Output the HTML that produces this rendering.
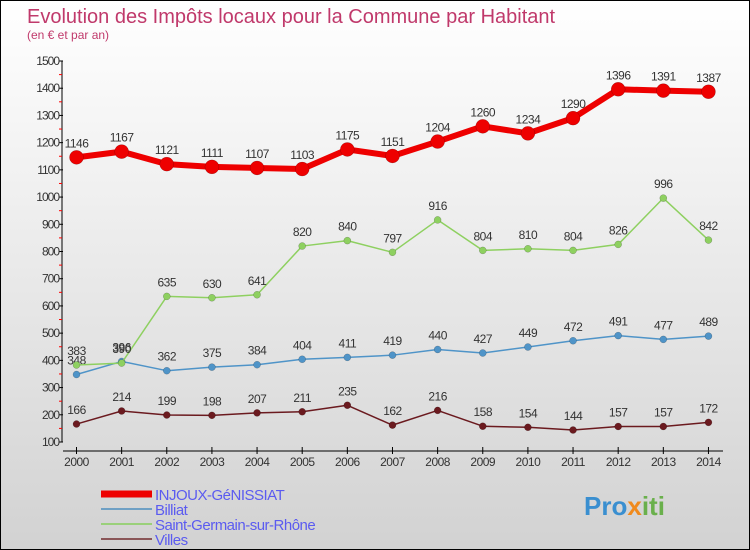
<!DOCTYPE html>
<html><head><meta charset="utf-8"><style>
body{margin:0}
#c{width:748px;height:548px;border:1px solid #000;background:linear-gradient(#fff,#f2f2f2 30%,#d2d2d2);position:relative;font-family:"Liberation Sans",sans-serif;overflow:hidden}
svg{position:absolute;left:0;top:0}
</style></head><body>
<div id="c">
<svg id="s" width="748" height="548">
<text x="26" y="22" font-size="20" fill="#c0396b">Evolution des Impôts locaux pour la Commune par Habitant</text>
<text x="26" y="38" font-size="12" fill="#c0396b">(en € et par an)</text>
<g id="axes"></g><g id="series"></g><g id="legend"></g>
<text x="583" y="514" font-size="26" font-weight="bold" fill="#3a8fd0">Pro<tspan fill="#f08a1c">x</tspan><tspan fill="#6ab04c">iti</tspan></text>
</svg></div>
<script>
const years=[2000,2001,2002,2003,2004,2005,2006,2007,2008,2009,2010,2011,2012,2013,2014];
const yTicks=[100,200,300,400,500,600,700,800,900,1000,1100,1200,1300,1400,1500];
const injoux=[1146,1167,1121,1111,1107,1103,1175,1151,1204,1260,1234,1290,1396,1391,1387];
const billiat=[348,396,362,375,384,404,411,419,440,427,449,472,491,477,489];
const saintGermain=[383,390,635,630,641,820,840,797,916,804,810,804,826,996,842];
const villes=[166,214,199,198,207,211,235,162,216,158,154,144,157,157,172];
const NS="http://www.w3.org/2000/svg";
const X=i=>75.5+i*45.14;
const Y=v=>441-(v-100)*381/1400;
function mk(t,a,p){const e=document.createElementNS(NS,t);for(const k in a)e.setAttribute(k,a[k]);p.appendChild(e);return e;}
const ax=document.getElementById('axes');
const yAxis=mk('line',{x1:61,y1:60,x2:61,y2:441,stroke:'#000'},ax);


yTicks.forEach(v=>{
 mk('line',{x1:58,x2:62,y1:Y(v),y2:Y(v),stroke:'#000'},ax);
 if(v<1500) mk('line',{x1:58,x2:61,y1:Y(v+50),y2:Y(v+50),stroke:'#f00'},ax);
 const t=mk('text',{x:58,y:Y(v)+4,'font-size':12,'text-anchor':'end',fill:'#333','letter-spacing':'-1'},ax);
 t.textContent=v;
 
 
});
const xAxis=mk('line',{x1:62,y1:450,x2:722,y2:450,stroke:'#000'},ax);


years.forEach((y,i)=>{
 mk('line',{x1:X(i),x2:X(i),y1:446,y2:453,stroke:'#000'},ax);
 const t=mk('text',{x:X(i),y:465,'font-size':12,'text-anchor':'middle',fill:'#333','letter-spacing':'-0.5'},ax);
 t.textContent=y;
 
 
});
const sg=document.getElementById('series');
function series(data,color,w,r,name){
 const g=mk('g',{},sg);
 
 
 mk('polyline',{points:data.map((v,i)=>X(i)+','+Y(v)).join(' '),fill:'none',stroke:color,'stroke-width':w,'stroke-linejoin':'round'},g);
 data.forEach((v,i)=>{
  const c=mk('circle',{cx:X(i),cy:Y(v),r:r,fill:color,stroke:'rgba(0,0,0,0.3)','stroke-width':0.5},g);
  
  
  const t=mk('text',{x:X(i),y:Y(v)-10,'font-size':12,'text-anchor':'middle',fill:'#333','letter-spacing':'-0.5'},g);
  t.textContent=v;
  
  
 });
}
series(villes,'#6b1a1f',1.5,3.5,'villes-series');
series(billiat,'#4f94c8',1.5,3.5,'billiat-series');
series(saintGermain,'#8ed060',1.5,3.5,'saint-germain-series');
series(injoux,'#ee0000',6,7,'injoux-series');
const lg=document.getElementById('legend');
[['INJOUX-GéNISSIAT','#ee0000',7],['Billiat','#6fa0c4',2],['Saint-Germain-sur-Rhône','#9ad07a',2],['Villes','#8a5658',2]].forEach((e,i)=>{
 const y=493+i*15;
 const g=mk('g',{},lg);
 
 
 mk('line',{x1:100,x2:151,y1:y,y2:y,stroke:e[1],'stroke-width':e[2]},g);
 const t=mk('text',{x:154,y:y+6,'font-size':15,fill:'#5b5bf0','letter-spacing':'-0.5'},g);
 t.textContent=e[0];
});
</script>
</body></html>
